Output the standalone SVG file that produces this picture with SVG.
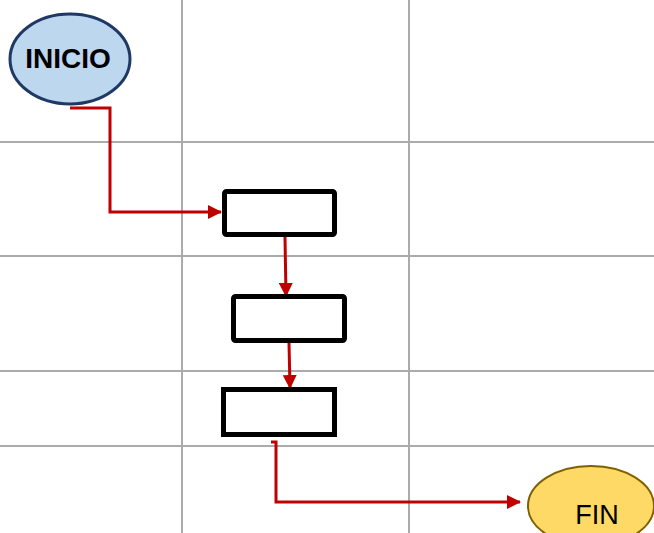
<svg xmlns="http://www.w3.org/2000/svg" width="654" height="533" viewBox="0 0 654 533">
<style>
.grid{stroke:#ababab;stroke-width:2;fill:none}
.box{fill:#fff;stroke:#000;stroke-width:5}
.conn{stroke:#c00000;stroke-width:3;fill:none}
.lbl{font-family:"Liberation Sans",Arial,sans-serif;text-anchor:middle}
</style>
<defs>
<marker id="arr" markerWidth="14" markerHeight="14" refX="13" refY="7" orient="auto" markerUnits="userSpaceOnUse">
<path d="M0,0 L14,7 L0,14 Z" fill="#c00000"/>
</marker>
</defs>
<rect width="654" height="533" fill="#fff"/>
<g id="grid">
<line class="grid" x1="182" y1="0" x2="182" y2="533"/>
<line class="grid" x1="409" y1="0" x2="409" y2="533"/>
<line class="grid" x1="0" y1="142" x2="654" y2="142"/>
<line class="grid" x1="0" y1="256" x2="654" y2="256"/>
<line class="grid" x1="0" y1="371" x2="654" y2="371"/>
<line class="grid" x1="0" y1="446" x2="654" y2="446"/>
</g>
<g id="connectors">
<polyline class="conn" points="70,108 110,108 110,212 221,212" marker-end="url(#arr)"/>
<line class="conn" x1="285" y1="237" x2="286" y2="296" marker-end="url(#arr)"/>
<line class="conn" x1="289" y1="343" x2="290" y2="388" marker-end="url(#arr)"/>
<polyline class="conn" points="271,442 276,442 276,502 520,502" marker-end="url(#arr)"/>
</g>
<g id="inicio">
<ellipse cx="70" cy="59" rx="60" ry="45" fill="#bdd7ee" stroke="#1f3864" stroke-width="3"/>
<text class="lbl" x="68" y="68" font-size="28" font-weight="bold">INICIO</text>
</g>
<g id="box1"><rect class="box" x="224.5" y="191.5" width="110" height="43" rx="2"/></g>
<g id="box2"><rect class="box" x="233.5" y="296.5" width="111" height="44" rx="2"/></g>
<g id="box3"><rect class="box" x="223.5" y="389.5" width="111" height="45"/></g>
<g id="fin">
<ellipse cx="591" cy="506" rx="63" ry="40" fill="#ffd966" stroke="#7f6000" stroke-width="2"/>
<text class="lbl" x="597" y="524" font-size="27">FIN</text>
</g>
</svg>
